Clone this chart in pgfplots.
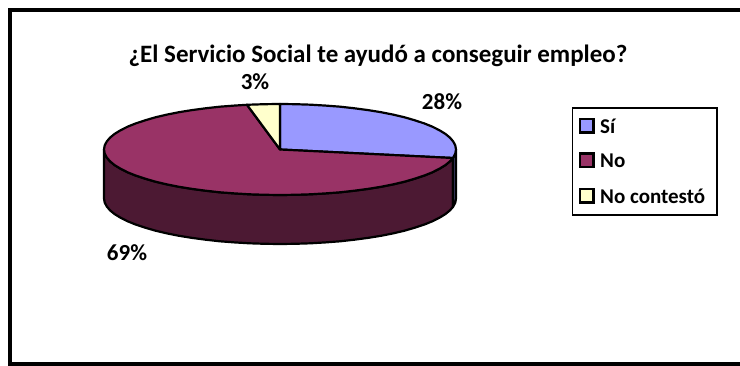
\documentclass[border=0pt]{standalone}
\usepackage{fontspec}
\setmainfont{Carlito}
\usepackage{pgfplots}
\pgfplotsset{compat=1.18}
\definecolor{si}{HTML}{9999FF}
\definecolor{no}{HTML}{993366}
\definecolor{nc}{HTML}{FFFFCC}
\definecolor{siwall}{HTML}{4C4C80}
\definecolor{nowall}{HTML}{4C1933}
\begin{document}
\begin{tikzpicture}[x=1pt,y=1pt]
\path[use as bounding box] (0,0) rectangle (740,366);
% Coordinates are centred on the pie; the top face is an ellipse 176 by 45.5.
% Slice shares 28 / 69 / 3 percent, clockwise from twelve o'clock.
\begin{axis}[
  at={(0,0)}, anchor=south west,
  scale only axis, width=740pt, height=366pt,
  xmin=-280, xmax=460, ymin=-216.5, ymax=149.5,
  hide axis, clip=false,
  pie/.style={line width=2.2pt, line join=round, draw=black},
]
% side wall, No slice
\addplot[pie, fill=nowall] coordinates {
 (172.9,-8.5) (170,-11.8) (165.4,-15.6) (159.5,-19.2) (152.4,-22.8) (144.2,-26.1) (134.8,-29.2) (124.5,-32.2)
 (113.1,-34.9) (101,-37.3) (88,-39.4) (74.4,-41.2) (60.2,-42.8) (45.6,-43.9) (30.6,-44.8) (15.3,-45.3) (0,-45.5)
 (-15.3,-45.3) (-30.6,-44.8) (-45.6,-43.9) (-60.2,-42.8) (-74.4,-41.2) (-88,-39.4) (-101,-37.3) (-113.1,-34.9)
 (-124.5,-32.2) (-134.8,-29.2) (-144.2,-26.1) (-152.4,-22.8) (-159.5,-19.2) (-165.4,-15.6) (-170,-11.8)
 (-173.3,-7.9) (-175.3,-4) (-176,0)
 (-176,-49) (-175.3,-53) (-173.3,-56.9) (-170,-60.8) (-165.4,-64.6) (-159.5,-68.2) (-152.4,-71.8) (-144.2,-75.1)
 (-134.8,-78.2) (-124.5,-81.2) (-113.1,-83.9) (-101,-86.3) (-88,-88.4) (-74.4,-90.2) (-60.2,-91.8) (-45.6,-92.9)
 (-30.6,-93.8) (-15.3,-94.3) (0,-94.5) (15.3,-94.3) (30.6,-93.8) (45.6,-92.9) (60.2,-91.8) (74.4,-90.2) (88,-88.4)
 (101,-86.3) (113.1,-83.9) (124.5,-81.2) (134.8,-78.2) (144.2,-75.1) (152.4,-71.8) (159.5,-68.2) (165.4,-64.6)
 (170,-60.8) (172.9,-57.5)
} -- cycle;
% side wall, Si slice
\addplot[pie, fill=siwall] coordinates {
 (176,0) (175.3,-4) (173.3,-7.9) (172.9,-8.5) (172.9,-57.5) (173.3,-56.9) (175.3,-53) (176,-49)
} -- cycle;
% top face, Si slice
\addplot[pie, fill=si] coordinates {
 (0,0) (0,45.5) (15.3,45.3) (30.6,44.8) (45.6,43.9) (60.2,42.8) (74.4,41.2) (88,39.4) (101,37.3) (113.1,34.9)
 (124.5,32.2) (134.8,29.2) (144.2,26.1) (152.4,22.8) (159.5,19.2) (165.4,15.6) (170,11.8) (173.3,7.9) (175.3,4)
 (176,0) (175.3,-4) (173.3,-7.9) (172.9,-8.5)
} -- cycle;
% top face, No slice
\addplot[pie, fill=no] coordinates {
 (0,0) (172.9,-8.5) (170,-11.8) (165.4,-15.6) (159.5,-19.2) (152.4,-22.8) (144.2,-26.1) (134.8,-29.2) (124.5,-32.2)
 (113.1,-34.9) (101,-37.3) (88,-39.4) (74.4,-41.2) (60.2,-42.8) (45.6,-43.9) (30.6,-44.8) (15.3,-45.3) (0,-45.5)
 (-15.3,-45.3) (-30.6,-44.8) (-45.6,-43.9) (-60.2,-42.8) (-74.4,-41.2) (-88,-39.4) (-101,-37.3) (-113.1,-34.9)
 (-124.5,-32.2) (-134.8,-29.2) (-144.2,-26.1) (-152.4,-22.8) (-159.5,-19.2) (-165.4,-15.6) (-170,-11.8)
 (-173.3,-7.9) (-175.3,-4) (-176,0) (-175.3,4) (-173.3,7.9) (-170,11.8) (-165.4,15.6) (-159.5,19.2) (-152.4,22.8)
 (-144.2,26.1) (-134.8,29.2) (-124.5,32.2) (-113.1,34.9) (-101,37.3) (-88,39.4) (-74.4,41.2) (-60.2,42.8)
 (-45.6,43.9) (-33,44.7)
} -- cycle;
% top face, No contesto slice
\addplot[pie, fill=nc] coordinates {
 (0,0) (-33,44.7) (-30.6,44.8) (-15.3,45.3) (0,45.5)
} -- cycle;
\end{axis}
% outer frame, open on the right-hand side; positions in pixel units from the lower left corner
\draw[line width=4pt] (740,356) -- (10,356) -- (10,1.7) -- (740,1.7);
\node[font=\bfseries\fontsize{25}{28}\selectfont] at (378,310) {¿El Servicio Social te ayudó a conseguir empleo?};
\node[font=\bfseries\fontsize{23}{26}\selectfont] at (255,284) {3\%};
\node[font=\bfseries\fontsize{23}{26}\selectfont] at (442,264) {28\%};
\node[font=\bfseries\fontsize{23}{26}\selectfont] at (127,113) {69\%};
% legend
\draw[line width=1.6pt,fill=white] (572.5,258) rectangle (717,151);
\foreach \y/\c/\t in {240/si/Sí,205.5/no/No,170/nc/No contestó}{
  \draw[line width=2.2pt,fill=\c] (580,\y-6.5) rectangle (593.5,\y+7);
  \node[anchor=west,inner sep=0,font=\bfseries\fontsize{21}{24}\selectfont] at (600,\y) {\t};
}
\end{tikzpicture}
\end{document}
